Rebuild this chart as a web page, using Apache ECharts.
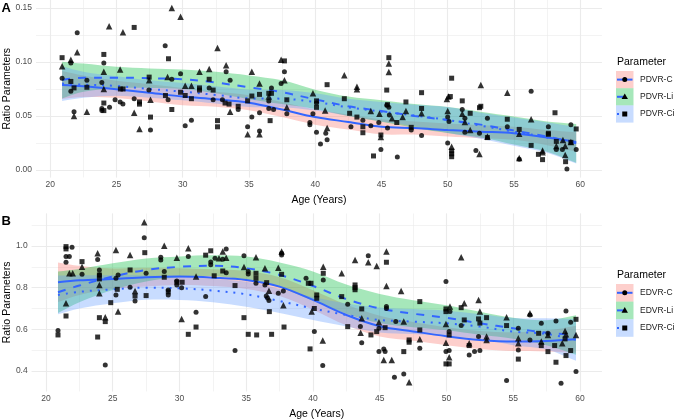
<!DOCTYPE html>
<html><head><meta charset="utf-8">
<script src="https://cdn.jsdelivr.net/npm/echarts@6/dist/echarts.min.js"></script>
<style>html,body{margin:0;padding:0;background:#fff}#c{width:676px;height:419px}</style>
</head><body><div id="c"></div>
<script>
// ---------- data ----------
const xTicks = [20, 25, 30, 35, 40, 45, 50, 55, 60];
const yTicksA = ['0.00', '0.05', '0.10', '0.15'];
const yTicksB = ['0.4', '0.6', '0.8', '1.0'];
const namesA = ['PDVR-C', 'PDVR-Li', 'PDVR-Ci'];
const namesB = ['EDVR-C', 'EDVR-Li', 'EDVR-Ci'];
const xTitle = 'Age (Years)';
const yTitle = 'Ratio Parameters';
const legendTitle = 'Parameter';

// smoother knots (age)
const knots = [20.9, 22.5, 25, 27.5, 30, 32.5, 35, 37.5, 40, 42.5, 45, 47.5, 50, 52.5, 55, 57.5, 59.7];

// Panel A points
const pdvrC = [[20.9,0.085],[21.56,0.099],[21.56,0.073],[21.8,0.054],[22.04,0.127],[22.77,0.083],[23.9,0.081],[23.9,0.057],[23.9,0.055],[24.05,0.099],[24.48,0.058],[24.9,0.065],[25.28,0.063],[25.49,0.061],[26.34,0.066],[27.45,0.074],[27.57,0.037],[28.68,0.115],[28.9,0.065],[29.18,0.084],[29.84,0.089],[30.19,0.041],[30.66,0.046],[32.0,0.076],[32.3,0.065],[33.0,0.065],[33.28,0.091],[33.58,0.083],[34.19,0.056],[34.9,0.040],[35.22,0.049],[35.8,0.053],[35.8,0.036],[36.5,0.064],[36.5,0.057],[36.7,0.076],[36.86,0.056],[37.43,0.080],[37.68,0.091],[37.86,0.052],[39.6,0.044],[39.6,0.042],[39.83,0.052],[40.1,0.062],[40.1,0.035],[40.4,0.024],[40.8,0.034],[40.9,0.028],[42.7,0.040],[43.6,0.046],[44.2,0.041],[44.8,0.044],[44.96,0.019],[45.4,0.060],[45.56,0.058],[45.6,0.051],[45.46,0.039],[46.2,0.012],[47.25,0.037],[48.03,0.032],[50.0,0.049],[50.1,0.045],[50.0,0.025],[51.1,0.056],[51.3,0.048],[51.3,0.035],[52.13,0.018],[52.4,0.034],[53.0,0.048],[54.5,0.040],[55.4,0.010],[56.3,0.073],[57.6,0.040],[58.2,0.019],[58.66,0.019],[59.0,0.001],[59.3,0.042],[59.7,0.019]];
const pdvrLi = [[20.9,0.096],[21.56,0.102],[21.8,0.050],[22.04,0.109],[22.77,0.054],[24.05,0.091],[24.05,0.075],[24.45,0.133],[25.28,0.093],[25.49,0.1275],[26.34,0.053],[26.74,0.038],[27.47,0.083],[27.57,0.065],[28.86,0.086],[29.18,0.150],[29.84,0.142],[30.19,0.078],[30.66,0.078],[31.27,0.091],[32.0,0.0935],[32.63,0.113],[33.28,0.097],[33.58,0.054],[34.9,0.033],[35.22,0.091],[35.8,0.080],[35.8,0.033],[36.5,0.068],[37.43,0.102],[37.68,0.083],[37.86,0.058],[39.83,0.071],[40.75,0.055],[40.9,0.039],[42.2,0.0877],[43.15,0.077],[43.15,0.0747],[44.2,0.0546],[44.85,0.052],[44.96,0.0306],[45.56,0.0985],[45.56,0.0907],[45.8,0.048],[46.6,0.049],[46.85,0.0546],[48.03,0.0525],[49.94,0.0657],[50.06,0.068],[50.0,0.0546],[50.3,0.0216],[51.1,0.052],[51.3,0.0444],[51.7,0.037],[52.4,0.0148],[52.5,0.0787],[53.0,0.031],[54.5,0.0716],[55.4,0.0336],[55.4,0.011],[56.3,0.047],[57.16,0.018],[57.16,0.0164],[58.2,0.0222],[58.7,0.0278],[58.87,0.0222],[58.87,0.0139],[59.3,0.026]];
const pdvrCi = [[20.9,0.104],[21.56,0.082],[21.8,0.076],[22.77,0.0766],[24.05,0.107],[24.05,0.062],[24.05,0.055],[25.3,0.075],[25.5,0.075],[26.34,0.132],[26.74,0.063],[26.74,0.061],[27.47,0.086],[27.57,0.049],[28.7,0.069],[28.93,0.103],[29.18,0.056],[29.84,0.072],[30.19,0.069],[30.66,0.066],[31.27,0.076],[31.27,0.074],[32.0,0.084],[32.3,0.074],[32.63,0.0457],[32.63,0.040],[33.2,0.062],[33.5,0.061],[34.19,0.059],[34.9,0.064],[35.22,0.0685],[35.8,0.070],[36.5,0.071],[36.7,0.071],[36.6,0.0457],[37.68,0.101],[37.86,0.065],[40.1,0.064],[40.1,0.058],[40.9,0.079],[42.2,0.066],[42.6,0.0525],[43.15,0.049],[43.6,0.040],[43.6,0.0345],[44.4,0.013],[44.96,0.0324],[45.4,0.074],[45.56,0.104],[45.46,0.0605],[46.16,0.044],[46.85,0.063],[47.25,0.0395],[48.03,0.0716],[48.03,0.057],[50.3,0.085],[50.2,0.068],[50.3,0.0176],[50.3,0.015],[50.3,0.0123],[51.1,0.064],[51.7,0.0525],[52.4,0.0577],[52.5,0.059],[53.0,0.030],[54.5,0.047],[55.4,0.0376],[56.3,0.0228],[56.85,0.0145],[57.16,0.0096],[57.6,0.034],[57.6,0.033],[58.1,0.053],[58.2,0.0265],[58.9,0.0077],[59.3,0.0256],[59.7,0.038]];

// Panel A smoothers (fit and standard-error half width at knots)
const pdvrCFit  = [0.0787,0.0775,0.0747,0.0715,0.068,0.0655,0.0623,0.056,0.049,0.0445,0.040,0.0388,0.037,0.0355,0.034,0.030,0.026];
const pdvrCSe   = [0.013,0.010,0.008,0.008,0.008,0.007,0.007,0.007,0.007,0.007,0.007,0.006,0.006,0.006,0.006,0.007,0.009];
const pdvrLiFit = [0.0833,0.0855,0.0855,0.085,0.084,0.081,0.0766,0.072,0.0654,0.059,0.0546,0.050,0.0463,0.042,0.0365,0.031,0.0247];
const pdvrLiSe  = [0.017,0.013,0.010,0.009,0.009,0.010,0.011,0.011,0.009,0.009,0.010,0.011,0.012,0.012,0.013,0.014,0.018];
const pdvrCiFit = [0.080,0.079,0.0778,0.075,0.0725,0.0695,0.0664,0.066,0.063,0.058,0.054,0.0505,0.0463,0.041,0.0355,0.030,0.023];
const pdvrCiSe  = [0.016,0.012,0.009,0.008,0.008,0.008,0.008,0.008,0.008,0.008,0.009,0.010,0.012,0.012,0.013,0.014,0.017];

// Panel B points
const edvrC = [[20.9,0.594],[21.5,0.949],[21.75,0.949],[21.5,0.922],[21.95,0.994],[22.7,0.864],[23.87,0.935],[24.0,0.885],[24.0,0.861],[24.44,0.429],[25.24,0.845],[25.24,0.765],[25.4,0.861],[26.3,0.802],[26.67,0.736],[27.36,1.040],[27.5,0.869],[28.6,0.946],[28.6,0.933],[28.86,0.877],[29.16,0.789],[29.16,0.765],[29.8,0.832],[29.8,0.813],[30.16,0.80],[30.66,0.949],[31.24,0.682],[31.96,0.757],[32.34,0.923],[32.34,0.91],[32.66,0.941],[33.24,0.936],[33.5,0.986],[33.5,0.872],[34.16,0.498],[34.83,0.953],[35.15,0.877],[35.15,0.866],[35.73,0.821],[36.4,0.813],[36.5,0.76],[36.6,0.75],[36.7,0.738],[37.4,0.773],[37.65,0.965],[37.65,0.957],[37.78,0.784],[39.48,0.845],[40.1,0.589],[40.77,0.837],[40.73,0.426],[42.6,0.72],[43.55,0.613],[43.65,0.536],[44.14,0.953],[44.94,0.605],[44.94,0.493],[45.3,0.506],[45.4,0.493],[45.5,0.71],[45.5,0.70],[46.2,0.637],[46.1,0.37],[46.8,0.386],[48.0,0.509],[49.96,0.829],[50.26,0.685],[50.2,0.59],[49.96,0.493],[50.2,0.498],[51.1,0.618],[51.7,0.477],[52.1,0.493],[52.4,0.565],[52.5,0.498],[54.5,0.354],[55.38,0.605],[55.38,0.501],[56.25,0.669],[56.25,0.549],[57.1,0.629],[57.6,0.581],[58.2,0.64],[58.58,0.341],[58.95,0.688],[59.3,0.634],[59.7,0.397]];
const edvrLi = [[21.75,0.869],[22.0,0.869],[21.5,0.725],[22.7,0.90],[23.87,0.965],[24.0,0.813],[24.0,0.773],[24.44,0.658],[25.24,0.981],[25.4,0.685],[26.3,0.957],[26.67,0.784],[27.36,1.114],[28.86,1.001],[29.8,0.944],[30.16,0.65],[30.66,0.989],[31.24,0.853],[32.96,0.941],[33.24,0.973],[33.5,0.944],[34.83,0.899],[35.73,0.946],[36.4,0.893],[36.7,0.785],[37.4,0.896],[37.65,0.973],[37.78,0.715],[39.9,0.685],[40.77,0.90],[40.73,0.546],[42.15,0.869],[43.15,0.933],[43.65,0.653],[43.57,0.583],[44.14,0.922],[44.77,0.904],[44.94,0.634],[45.3,0.453],[45.9,0.453],[45.5,0.973],[45.5,0.808],[46.6,0.784],[46.8,0.637],[47.2,0.346],[48.0,0.552],[50.26,0.709],[49.96,0.626],[49.96,0.536],[50.2,0.466],[51.1,0.946],[51.33,0.725],[51.7,0.533],[52.4,0.741],[52.5,0.685],[53.0,0.565],[53.0,0.549],[54.5,0.658],[55.38,0.557],[55.38,0.533],[56.25,0.677],[57.1,0.541],[57.6,0.573],[58.67,0.533],[58.88,0.592],[58.95,0.576],[59.7,0.573]];
const edvrCi = [[20.9,0.573],[21.5,0.997],[21.5,0.986],[21.5,0.664],[22.7,0.925],[24.0,0.861],[24.0,0.842],[24.0,0.656],[23.87,0.563],[24.44,0.637],[24.85,0.728],[25.34,0.792],[26.3,0.885],[26.67,0.76],[27.4,0.968],[27.5,0.762],[28.86,0.85],[29.16,0.78],[29.8,0.826],[30.2,0.826],[30.66,0.576],[31.24,0.611],[31.96,0.956],[32.34,0.977],[32.6,0.857],[33.24,0.88],[34.16,0.81],[34.83,0.656],[35.15,0.576],[35.73,0.869],[35.73,0.845],[35.78,0.573],[36.53,0.824],[36.73,0.685],[36.9,0.576],[37.65,0.864],[37.83,0.611],[39.65,0.821],[39.85,0.821],[39.78,0.506],[40.1,0.70],[40.28,0.765],[40.28,0.749],[40.77,0.869],[42.15,0.757],[42.6,0.613],[43.15,0.813],[43.15,0.80],[43.15,0.79],[43.65,0.698],[44.34,0.573],[44.77,0.589],[45.5,0.922],[45.4,0.608],[46.8,0.493],[47.2,0.549],[47.2,0.538],[48.0,0.733],[48.0,0.597],[49.96,0.698],[49.96,0.685],[50.2,0.573],[49.96,0.434],[50.2,0.434],[51.1,0.704],[51.33,0.645],[51.7,0.522],[52.4,0.65],[52.5,0.63],[53.0,0.656],[54.5,0.618],[55.38,0.457],[56.9,0.581],[57.1,0.522],[57.6,0.493],[58.1,0.522],[58.2,0.442],[58.88,0.554],[58.95,0.474],[59.3,0.498],[59.7,0.648]];

// Panel B smoothers
const edvrCFit  = [0.826,0.835,0.842,0.85,0.853,0.848,0.837,0.805,0.741,0.669,0.615,0.59,0.567,0.549,0.541,0.544,0.552];
const edvrCSe   = [0.095,0.07,0.05,0.045,0.04,0.04,0.043,0.045,0.047,0.05,0.05,0.045,0.043,0.043,0.045,0.05,0.065];
const edvrLiFit = [0.778,0.81,0.853,0.885,0.90,0.905,0.893,0.861,0.808,0.745,0.70,0.675,0.655,0.629,0.605,0.584,0.573];
const edvrLiSe  = [0.10,0.08,0.064,0.055,0.05,0.05,0.056,0.06,0.07,0.07,0.07,0.065,0.06,0.055,0.05,0.06,0.095];
const edvrCiFit = [0.765,0.78,0.792,0.80,0.797,0.786,0.768,0.736,0.70,0.669,0.645,0.637,0.629,0.613,0.589,0.578,0.549];
const edvrCiSe  = [0.093,0.08,0.067,0.058,0.056,0.056,0.06,0.058,0.055,0.055,0.06,0.06,0.06,0.06,0.065,0.075,0.10];

// ---------- styling ----------
const FONT = '"Liberation Sans", Arial, Helvetica, sans-serif';
const FILL = ['rgba(248,118,109,0.35)', 'rgba(0,186,56,0.35)', 'rgba(97,156,255,0.35)'];
const BLUE = '#3366FF';
const DASH = ['solid', [8, 8], [2, 6]];
const SYM = ['circle', 'triangle', 'rect'];
const SYMSIZE = [5, 6.5, 5];
const GRID = '#ebebeb';

const XMIN = 18.93, XMAX = 61.64;
const panels = [
  { grid: { left: 36, top: 0, width: 565.9, height: 177.45 }, ymin: -0.0069, ymax: 0.1574, major: 0.05, minor: 0.025,
    yLabels: yTicksA, yGap: 23, names: namesA,
    groups: [[pdvrC, pdvrCFit, pdvrCSe], [pdvrLi, pdvrLiFit, pdvrLiSe], [pdvrCi, pdvrCiFit, pdvrCiSe]] },
  { grid: { left: 31.7, top: 213.5, width: 570.2, height: 177.9 }, ymin: 0.302, ymax: 1.156, major: 0.2, minor: 0.1,
    yLabels: yTicksB, yGap: 19, names: namesB,
    groups: [[edvrC, edvrCFit, edvrCSe], [edvrLi, edvrLiFit, edvrLiSe], [edvrCi, edvrCiFit, edvrCiSe]] }
];

function near(v, list) { return list.find(t => Math.abs(parseFloat(t) - v) < 1e-7); }

const grids = [], xAxes = [], yAxes = [], series = [];
panels.forEach((p, pi) => {
  grids.push(Object.assign({ containLabel: false, outerBoundsMode: 'none' }, p.grid));
  const lbl = { color: '#4d4d4d', fontSize: 8.5, fontFamily: FONT };
  xAxes.push({ type: 'value', gridIndex: pi, min: XMIN, max: XMAX, minInterval: 5, maxInterval: 5, splitNumber: 8,
    position: 'bottom', axisLine: { show: false }, axisTick: { show: false },
    axisLabel: Object.assign({ margin: 3, formatter: v => { const t = near(v, xTicks.map(String)); return t == null ? '' : t; } }, lbl),
    splitLine: { show: true, showMinLine: false, showMaxLine: false, lineStyle: { color: GRID, width: 1.1 } },
    name: xTitle, nameLocation: 'middle', nameGap: 17, nameMoveOverlap: false,
    nameTextStyle: { color: '#000', fontSize: 10.5, fontFamily: FONT } });
  xAxes.push({ type: 'value', gridIndex: pi, min: XMIN, max: XMAX, minInterval: 2.5, maxInterval: 2.5, splitNumber: 17,
    position: 'bottom', axisLine: { show: false }, axisTick: { show: false }, axisLabel: { show: false },
    splitLine: { show: true, showMinLine: false, showMaxLine: false, lineStyle: { color: GRID, width: 0.6 } }, z: -1 });
  yAxes.push({ type: 'value', gridIndex: pi, min: p.ymin, max: p.ymax, minInterval: p.major, maxInterval: p.major, splitNumber: 4,
    axisLine: { show: false }, axisTick: { show: false },
    axisLabel: Object.assign({ margin: 4, formatter: v => { const t = near(v, p.yLabels); return t == null ? '' : t; } }, lbl),
    splitLine: { show: true, showMinLine: false, showMaxLine: false, lineStyle: { color: GRID, width: 1.1 } },
    name: yTitle, nameLocation: 'middle', nameRotate: 90, nameGap: p.yGap, nameMoveOverlap: false,
    nameTextStyle: { color: '#000', fontSize: 10.5, fontFamily: FONT } });
  yAxes.push({ type: 'value', gridIndex: pi, min: p.ymin, max: p.ymax, minInterval: p.minor, maxInterval: p.minor, splitNumber: 8,
    axisLine: { show: false }, axisTick: { show: false }, axisLabel: { show: false },
    splitLine: { show: true, showMinLine: false, showMaxLine: false, lineStyle: { color: GRID, width: 0.6 } }, z: -1 });

  const xi = pi * 2, yi = pi * 2;
  // confidence ribbons: one polygon per group, corners via the axes' own coord()
  p.groups.forEach((g, gi) => {
    const [pts, fit, se] = g;
    series.push({ type: 'custom', xAxisIndex: xi, yAxisIndex: yi, silent: true, z: 1,
      data: knots.map((a, i) => [a, fit[i] - se[i], fit[i] + se[i]]),
      encode: { x: 0, y: [1, 2] },
      renderItem: (params, api) => {
        if (params.dataIndex !== 0) return null;
        const up = knots.map((a, i) => api.coord([a, fit[i] + se[i]]));
        const lo = knots.map((a, i) => api.coord([a, fit[i] - se[i]])).reverse();
        const n = up.length;
        const ring = [up[0]].concat(up, [up[n - 1]], [lo[0]], lo, [lo[n - 1]]);
        return { type: 'polygon', shape: { points: ring, smooth: 0.35 }, style: { fill: FILL[gi] } };
      } });
  });
  p.groups.forEach((g, gi) => {
    const [pts, fit] = g;
    series.push({ type: 'line', xAxisIndex: xi, yAxisIndex: yi, silent: true, data: knots.map((a, i) => [a, fit[i]]),
      smooth: 0.35, symbol: 'none', lineStyle: { color: BLUE, width: 2, type: DASH[gi], cap: 'butt' }, z: 3 });
  });
  p.groups.forEach((g, gi) => {
    series.push({ type: 'scatter', xAxisIndex: xi, yAxisIndex: yi, silent: true, data: g[0], symbol: SYM[gi],
      symbolSize: SYMSIZE[gi], itemStyle: { color: '#000' }, z: 4 });
  });
});

// ---------- legends & panel tags (graphic) ----------
const graphic = [];
function addLegend(names, titleY, keyTop, keyH) {
  graphic.push({ type: 'text', x: 617, y: titleY, style: { text: legendTitle, fill: '#000', font: '10.5px ' + FONT, verticalAlign: 'middle' } });
  names.forEach((n, i) => {
    const y0 = keyTop + i * keyH, cy = y0 + keyH / 2, x0 = 616, w = 17.5, cx = x0 + w / 2;
    graphic.push({ type: 'rect', shape: { x: x0, y: y0, width: w, height: keyH }, style: { fill: FILL[i] } });
    graphic.push({ type: 'line', shape: { x1: x0 + 1, y1: cy, x2: x0 + w - 1, y2: cy },
      style: { stroke: BLUE, lineWidth: 2, lineDash: i === 0 ? null : DASH[i] } });
    if (i === 0) graphic.push({ type: 'circle', shape: { cx: cx, cy: cy, r: 2.5 }, style: { fill: '#000' } });
    if (i === 1) graphic.push({ type: 'polygon', shape: { points: [[cx, cy - 3.3], [cx - 3.2, cy + 2.3], [cx + 3.2, cy + 2.3]] }, style: { fill: '#000' } });
    if (i === 2) graphic.push({ type: 'rect', shape: { x: cx - 2.5, y: cy - 2.5, width: 5, height: 5 }, style: { fill: '#000' } });
    graphic.push({ type: 'text', x: 640, y: cy, style: { text: n, fill: '#1a1a1a', font: '8.5px ' + FONT, verticalAlign: 'middle' } });
  });
}
addLegend(namesA, 62, 71, 17.2);
addLegend(namesB, 275.5, 284, 17.6);
graphic.push({ type: 'text', x: 1.5, y: 8, style: { text: 'A', fill: '#000', font: 'bold 13px ' + FONT, verticalAlign: 'middle' } });
graphic.push({ type: 'text', x: 1.5, y: 221, style: { text: 'B', fill: '#000', font: 'bold 13px ' + FONT, verticalAlign: 'middle' } });

const chart = echarts.init(document.getElementById('c'), null, { renderer: 'canvas' });
chart.setOption({
  animation: false,
  backgroundColor: '#fff',
  textStyle: { fontFamily: FONT },
  grid: grids, xAxis: xAxes, yAxis: yAxes, series: series, graphic: graphic
});
</script></body></html>
